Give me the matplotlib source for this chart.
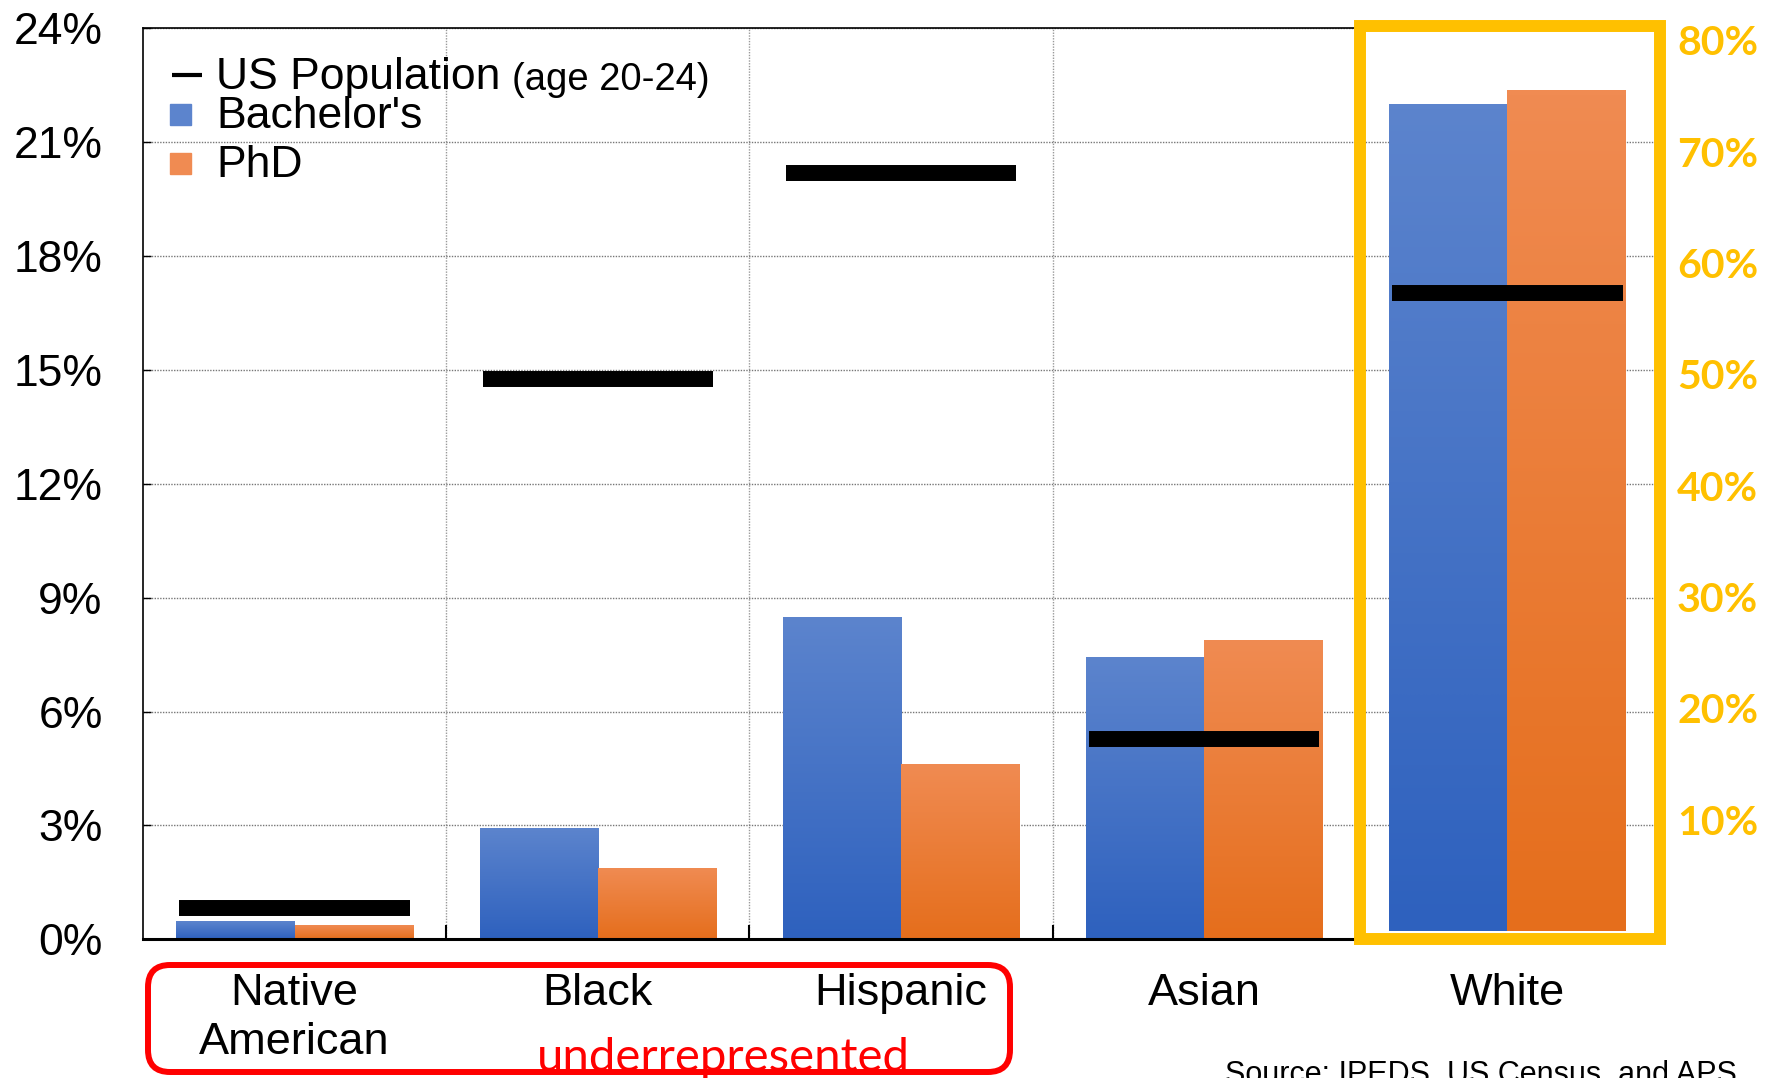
import numpy as np
import matplotlib
matplotlib.use("Agg")
import matplotlib.pyplot as plt
from matplotlib.colors import LinearSegmentedColormap
from matplotlib.patches import FancyBboxPatch, Rectangle

plt.rcParams['font.family'] = ['Liberation Sans', 'DejaVu Sans']

# share of degrees / population by group, in percent
categories = ["Native\nAmerican", "Black", "Hispanic", "Asian", "White"]
bachelors = [0.45, 2.9, 8.46, 7.41, 74.2]
phd = [0.36, 1.85, 4.6, 7.86, 75.5]
population = [0.84, 14.76, 20.17, 5.29, 57.3]
left_ticks = [0, 3, 6, 9, 12, 15, 18, 21, 24]
right_ticks = [10, 20, 30, 40, 50, 60, 70, 80]

BLUE_TOP, BLUE_BOT = '#5C84CD', '#2E61BE'
ORANGE_TOP, ORANGE_BOT = '#F08B52', '#E56E1C'
GOLD = '#FFC000'

blue_cmap = LinearSegmentedColormap.from_list('blue', [BLUE_BOT, BLUE_TOP])
orange_cmap = LinearSegmentedColormap.from_list('orange', [ORANGE_BOT, ORANGE_TOP])
grad = np.linspace(0, 1, 256).reshape(-1, 1)

W, H = 1779, 1078
fig = plt.figure(figsize=(W / 100, H / 100), dpi=100)
ax = fig.add_axes([143 / W, 1 - 939.4 / H, (1659 - 143) / W, (939.4 - 28) / H])
ax2 = ax.twinx()

x = np.arange(len(categories))
bw = 0.39


def gradient_bars(axis, xs, vals, cmap):
    bars = axis.bar(xs, vals, width=bw, color='none', edgecolor='none', zorder=2)
    for p in bars:
        x0, w, h = p.get_x(), p.get_width(), p.get_height()
        axis.imshow(grad, cmap=cmap, origin='lower', aspect='auto',
                    extent=(x0, x0 + w, 0, h), zorder=2, interpolation='bicubic')
    return bars


# groups 0-3 on the left scale, White on the right scale
gradient_bars(ax, x[:4] - bw / 2, bachelors[:4], blue_cmap)
gradient_bars(ax, x[:4] + bw / 2, phd[:4], orange_cmap)
ax.hlines(population[:4], x[:4] - 0.38, x[:4] + 0.38, colors='black',
          linewidth=11.5, zorder=3, capstyle='butt')

gradient_bars(ax2, x[4:] - bw / 2, bachelors[4:], blue_cmap)
gradient_bars(ax2, x[4:] + bw / 2, phd[4:], orange_cmap)
ax2.hlines(population[4:], x[4:] - 0.38, x[4:] + 0.38, colors='black',
           linewidth=11.5, zorder=3, capstyle='butt')

ax.set_xlim(-0.5, len(categories) - 0.5)
ax.set_ylim(0, 24)
ax2.set_ylim(-0.75, 81.1)

# left axis
ax.set_yticks(left_ticks)
ax.set_yticklabels([f'{t}%' for t in left_ticks], fontsize=32)
ax.tick_params(axis='y', direction='in', length=6, width=1, pad=29)
ax.grid(axis='y', linestyle=(0, (1, 1)), color='#777777', linewidth=1, zorder=0)

# category labels and boundary ticks
ax.set_xticks(x)
ax.set_xticklabels(categories, fontsize=32.5, linespacing=1.26)
ax.tick_params(axis='x', length=0, pad=24)
ax.set_xticks(np.arange(0.5, len(categories) - 1, 1), minor=True)
ax.tick_params(axis='x', which='minor', direction='in', length=10, width=1.5)
for b in np.arange(0.5, len(categories) - 1, 1):
    ax.axvline(b, linestyle=(0, (1, 1)), color='#999999', linewidth=1, zorder=0)
ax.set_axisbelow(True)

for s in ['left', 'top']:
    ax.spines[s].set_linewidth(1.2)
ax.spines['bottom'].set_linewidth(2.2)
ax.spines['right'].set_visible(False)
ax2.spines[:].set_visible(False)

# right axis in gold
ax2.set_yticks(right_ticks)
ax2.set_yticklabels([f'{t}%' for t in right_ticks], fontsize=29.5,
                    fontweight='bold', color=GOLD, family='Lato')
ax2.tick_params(axis='y', length=0, pad=13)

# overlay in pixel coordinates for legend, boxes and notes
ov = fig.add_axes([0, 0, 1, 1], zorder=10)
ov.set_xlim(0, W)
ov.set_ylim(H, 0)
ov.axis('off')

ov.plot([172, 202], [75, 75], color='black', linewidth=3, solid_capstyle='butt')
pop_txt = ov.text(216, 88.5, 'US Population', fontsize=32, va='baseline')
ov.annotate('(age 20-24)', xy=(1, 0), xycoords=pop_txt, xytext=(12, 0),
            textcoords='offset pixels', fontsize=27.5, va='bottom')
ov.add_patch(Rectangle((170, 104), 21, 21, color=BLUE_TOP))
ov.text(216, 128, "Bachelor's", fontsize=32, va='baseline')
ov.add_patch(Rectangle((170, 153), 21, 21, color=ORANGE_TOP))
ov.text(216, 177, 'PhD', fontsize=32, va='baseline')

ov.add_patch(Rectangle((1360, 25.5), 300, 913.5, fill=False,
                       edgecolor=GOLD, linewidth=8.6))

ov.add_patch(FancyBboxPatch((148, 965), 862, 107,
                            boxstyle='round,pad=0,rounding_size=22',
                            fill=False, edgecolor='#FF0000', linewidth=4.3))
ov.text(723, 1071, 'underrepresented', fontsize=34, color='#FF0000',
        family='Lato', ha='center', va='baseline')

ov.text(1225, 1060, 'Source: IPEDS, US Census, and APS', fontsize=22,
        va='top', clip_on=False)

fig.savefig('out.png', dpi=100)
